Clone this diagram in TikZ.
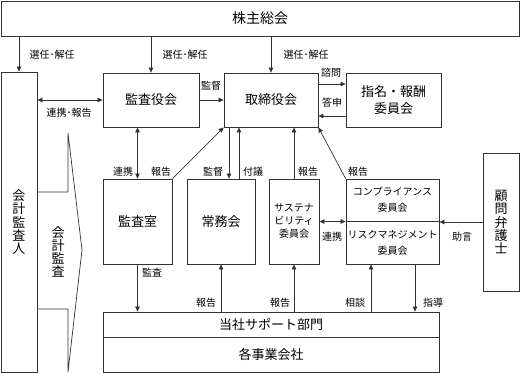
\documentclass[tikz,border=0pt]{standalone}
\usepackage{fontspec}
\setmainfont{Noto Sans CJK JP}
\usetikzlibrary{arrows.meta}
\begin{document}
\begin{tikzpicture}[x=1pt,y=-1pt,
  box/.style={draw=black!80,line width=0.8pt,rectangle,inner sep=0pt,align=center,font=\fontsize{13}{15}\selectfont},
  sbox/.style={box,font=\fontsize{10}{13}\selectfont},
  vtext/.style={align=center,inner sep=0pt,font=\fontsize{13}{13.2}\selectfont},
  lbl/.style={inner sep=0pt,font=\fontsize{10}{12}\selectfont},
  arr/.style={draw=black!80,line width=0.7pt,-{Triangle[length=5pt,width=4.5pt]}},
  darr/.style={draw=black!80,line width=0.7pt,{Triangle[length=5pt,width=4.5pt]}-{Triangle[length=5pt,width=4.5pt]}},
  ln/.style={draw=black!80,line width=0.7pt}]
\useasboundingbox (0,0) rectangle (521,373);
% boxes
\node[box,minimum width=518pt,minimum height=35pt,font=\fontsize{14}{16}\selectfont] (kabu) at (260,18.5) {株主総会};
\node[box,minimum width=36pt,minimum height=300pt] (kaikei) at (19,222) {};
\node[vtext] at (19,222) {会\\計\\監\\査\\人};
\node[box,minimum width=96pt,minimum height=54pt] (kansayaku) at (151,100) {監査役会};
\node[box,minimum width=94pt,minimum height=54pt] (tori) at (271,100) {取締役会};
\node[box,minimum width=95pt,minimum height=54pt,font=\fontsize{13}{17}\selectfont] (shimei) at (393.5,100) {指名・報酬\\委員会};
\node[box,minimum width=69pt,minimum height=85pt] (kansashitsu) at (137.5,221.5) {監査室};
\node[box,minimum width=68pt,minimum height=85pt] (jomu) at (221,221.5) {常務会};
\node[sbox,minimum width=50pt,minimum height=85pt] (sus) at (294,221.5) {サステナ\\ビリティ\\委員会};
\node[sbox,minimum width=93pt,minimum height=42pt,font=\fontsize{10}{16}\selectfont] (compl) at (392.5,200) {コンプライアンス\\委員会};
\node[sbox,minimum width=93pt,minimum height=43pt,font=\fontsize{10}{16}\selectfont] (risk) at (392.5,242.5) {リスクマネジメント\\委員会};
\node[box,minimum width=36pt,minimum height=138pt] (komon) at (501,222) {};
\node[vtext] at (501,222) {顧\\問\\弁\\護\\士};
\node[box,minimum width=336pt,minimum height=25pt] (support) at (271,324.5) {当社サポート部門};
\node[box,minimum width=336pt,minimum height=35pt] (jigyo) at (271,354.5) {各事業会社};
% audit arrow shape
\draw[ln] (37,192) -- (68,192) -- (68,133) -- (82,250) -- (68,372) -- (68,309) -- (37,309);
\node[vtext] at (58,252) {会\\計\\監\\査};
% helper x coordinates
\coordinate (x229) at (229,0);
\coordinate (x239) at (239,0);
\coordinate (x371) at (371,0);
\coordinate (x415) at (415,0);
\coordinate (y84) at (0,84);
\coordinate (y116) at (0,116);
% connectors
\draw[arr] (kaikei.north |- kabu.south) -- (kaikei.north);
\draw[arr] (kansayaku.north |- kabu.south) -- (kansayaku.north);
\draw[arr] (tori.north |- kabu.south) -- (tori.north);
\draw[darr] (kaikei.east |- kansayaku.west) -- (kansayaku.west);
\draw[arr] (kansayaku.east) -- (tori.west);
\draw[arr] (tori.east |- y84) -- (shimei.west |- y84);
\draw[arr] (shimei.west |- y116) -- (tori.east |- y116);
\draw[darr] (kansayaku.south -| kansashitsu.north) -- (kansashitsu.north);
\draw[arr] (kansashitsu.north east) -- (tori.south west);
\draw[arr] (tori.south -| x229) -- (jomu.north -| x229);
\draw[arr] (jomu.north -| x239) -- (tori.south -| x239);
\draw[arr] (sus.north) -- (tori.south -| sus.north);
\draw[arr] (compl.north west) -- (tori.south east);
\draw[darr] (sus.east) -- (sus.east -| compl.west);
\draw[arr] (komon.west) -- (komon.west -| compl.east);
\draw[arr] (kansashitsu.south) -- (kansashitsu.south |- support.north);
\draw[arr] (jomu.south |- support.north) -- (jomu.south);
\draw[arr] (sus.south |- support.north) -- (sus.south);
\draw[arr] (support.north -| x371) -- (risk.south -| x371);
\draw[arr] (risk.south -| x415) -- (support.north -| x415);
% labels
\node[lbl] at (52,55) {選任･解任};
\node[lbl] at (185,55) {選任･解任};
\node[lbl] at (306,55) {選任･解任};
\node[lbl] at (69,113) {連携･報告};
\node[lbl] at (211,86) {監督};
\node[lbl] at (331,73) {諮問};
\node[lbl] at (332,103) {答申};
\node[lbl] at (123,172) {連携};
\node[lbl] at (161,172) {報告};
\node[lbl] at (213,172) {監督};
\node[lbl] at (253,172) {付議};
\node[lbl] at (308,172) {報告};
\node[lbl] at (358,172) {報告};
\node[lbl] at (332,237) {連携};
\node[lbl] at (462,237) {助言};
\node[lbl] at (152,273) {監査};
\node[lbl] at (206,303) {報告};
\node[lbl] at (280,303) {報告};
\node[lbl] at (355,303) {相談};
\node[lbl] at (433,303) {指導};
\end{tikzpicture}
\end{document}
